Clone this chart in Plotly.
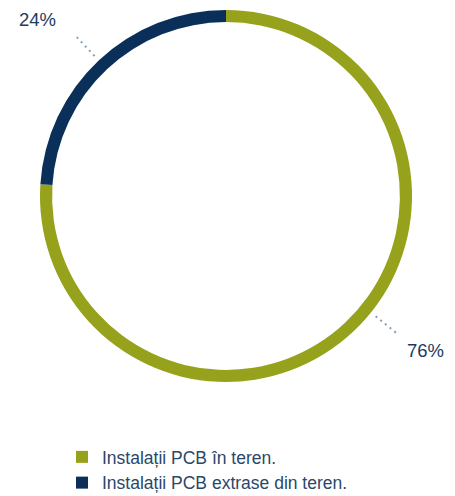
import math
import plotly.graph_objects as go

# ---- data ----
categories = ["Instalații PCB în teren.", "Instalații PCB extrase din teren."]
values = [76, 24]
value_labels = ["76%", "24%"]
colors = ["#96a21c", "#0a3059"]

# ---- layout constants ----
W, H = 455, 496
CX, CY = 226, 196          # ring centre (px)
R_OUT = 186                # ring outer radius (px)
HOLE = 0.935
LEAD_R0, LEAD_R1 = 192, 222
ANGLE_NUDGE = [-8, 0]      # degrees, visual nudge of leader direction
LABEL_COLOR = "#1c3b5e"
LEADER_COLOR = "#7f9fb6"
FONT = "Liberation Sans, Arial, sans-serif"

def px_to_paper(x, y):
    return x / W, 1 - y / H

fig = go.Figure()
fig.add_trace(go.Pie(
    labels=categories,
    values=values,
    marker=dict(colors=colors, line=dict(width=0)),
    hole=HOLE,
    sort=False,
    direction="clockwise",
    rotation=0,
    textinfo="none",
    hoverinfo="label+percent",
    domain=dict(x=[(CX - R_OUT) / W, (CX + R_OUT) / W],
                y=[1 - (CY + R_OUT) / H, 1 - (CY - R_OUT) / H]),
))

shapes = []
annotations = []
total = sum(values)
start = 0.0
for i, v in enumerate(values):
    frac = v / total
    mid = (start + frac / 2) * 360 + ANGLE_NUDGE[i]   # clockwise from 12 o'clock
    start += frac
    a = math.radians(mid)
    dx, dy = math.sin(a), -math.cos(a)
    x0, y0 = CX + dx * LEAD_R0, CY + dy * LEAD_R0
    x1, y1 = CX + dx * LEAD_R1, CY + dy * LEAD_R1
    p0 = px_to_paper(x0, y0)
    p1 = px_to_paper(x1, y1)
    shapes.append(dict(type="line", xref="paper", yref="paper",
                       x0=p0[0], y0=p0[1], x1=p1[0], y1=p1[1],
                       line=dict(color=LEADER_COLOR, width=2, dash="2px,4px")))
    left = dx < 0
    top = dy < 0
    annotations.append(dict(
        x=p1[0], y=p1[1], xref="paper", yref="paper",
        text=value_labels[i], showarrow=False,
        xanchor="right" if left else "left",
        yanchor="bottom" if top else "top",
        xshift=-16 if left else 6,
        yshift=2 if top else -3,
        font=dict(family=FONT, size=18.5, color=LABEL_COLOR),
    ))

fig.update_layout(
    width=W, height=H,
    margin=dict(l=0, r=0, t=0, b=0, autoexpand=False),
    paper_bgcolor="white",
    plot_bgcolor="white",
    shapes=shapes,
    annotations=annotations,
    showlegend=True,
    legend=dict(
        x=62 / W, y=1 - 439 / H, xanchor="left", yanchor="top",
        font=dict(family=FONT, size=17.5, color="#2a4868"),
        bgcolor="rgba(0,0,0,0)",
    ),
)

fig.write_html("out.html", config={"displayModeBar": False},
               post_script="document.body.style.margin='0';")
